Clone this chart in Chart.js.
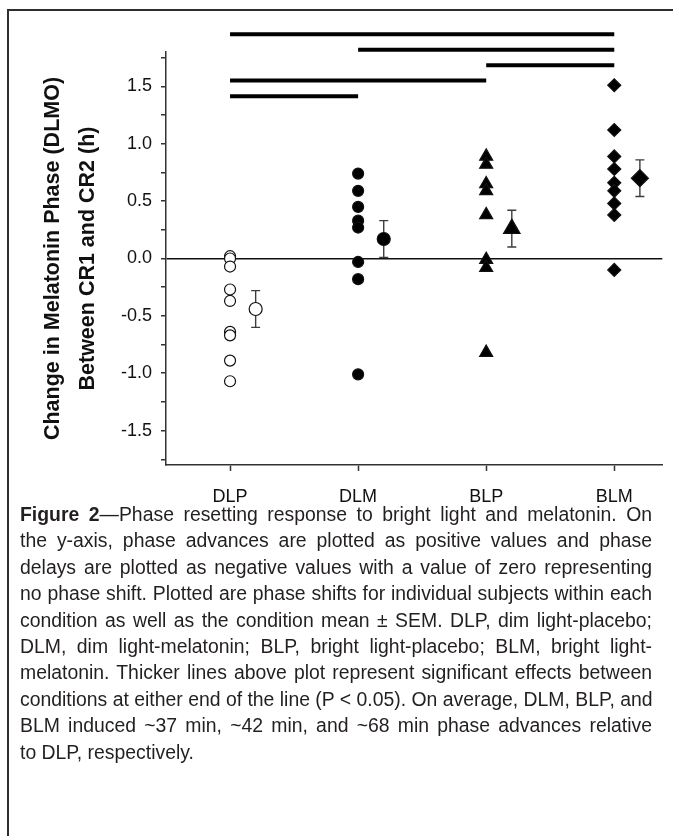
<!DOCTYPE html>
<html>
<head>
<meta charset="utf-8">
<script src="https://cdn.jsdelivr.net/npm/chart.js@4.4.1/dist/chart.umd.min.js"></script>
<style>
html,body{margin:0;padding:0;background:#fff;width:673px;height:836px;overflow:hidden;position:relative;}
#frame{position:absolute;left:7px;top:9px;width:700px;height:900px;border-top:2px solid #2e2e2e;border-left:2px solid #2e2e2e;box-sizing:border-box;}
#wrap{position:absolute;left:0;top:0;width:673px;height:505px;}
#caption{position:absolute;left:20px;top:501px;width:632px;font-family:"Liberation Sans",Arial,sans-serif;font-size:19.4px;color:#231f20;line-height:26.4px;}
#caption div{white-space:nowrap;text-align:justify;text-align-last:justify;}
#caption div.last{text-align-last:left;}
</style>
</head>
<body>
<div id="frame"></div>
<div id="wrap"><canvas id="c" width="673" height="505"></canvas></div>
<div id="caption">
<div><b>Figure 2</b>—Phase resetting response to bright light and melatonin. On</div>
<div>the y-axis, phase advances are plotted as positive values and phase</div>
<div>delays are plotted as negative values with a value of zero representing</div>
<div>no phase shift. Plotted are phase shifts for individual subjects within each</div>
<div>condition as well as the condition mean ± SEM. DLP, dim light-placebo;</div>
<div>DLM, dim light-melatonin; BLP, bright light-placebo; BLM, bright light-</div>
<div>melatonin. Thicker lines above plot represent significant effects between</div>
<div>conditions at either end of the line (P &lt; 0.05). On average, DLM, BLP, and</div>
<div>BLM induced ~37 min, ~42 min, and ~68 min phase advances relative</div>
<div class="last">to DLP, respectively.</div>
</div>
<script>
// ---- data ----
const categories = ['DLP', 'DLM', 'BLP', 'BLM'];
const dlpValues = [0.02, 0.00, -0.07, -0.27, -0.37, -0.64, -0.67, -0.89, -1.07];
const dlmValues = [0.74, 0.59, 0.45, 0.33, 0.27, -0.03, -0.18, -1.01];
const blpValues = [0.89, 0.82, 0.65, 0.59, 0.38, -0.01, -0.08, -0.82];
const blmValues = [1.51, 1.12, 0.89, 0.78, 0.66, 0.59, 0.48, 0.38, -0.10];
const means = [-0.44, 0.17, 0.26, 0.70];
const sems = [0.16, 0.16, 0.16, 0.16];
const sigFrom = [1, 2, 3, 1, 1];
const sigTo = [4, 4, 4, 3, 2];
const sigLevel = [1.955, 1.82, 1.685, 1.552, 1.415];
const yTickValues = [-1.75, -1.5, -1.25, -1, -0.75, -0.5, -0.25, 0, 0.25, 0.5, 0.75, 1, 1.25, 1.5, 1.75];
const yTitle = ['Change in Melatonin Phase (DLMO)', 'Between CR1 and CR2 (h)'];

const FONT = '"Liberation Sans", Arial, sans-serif';
const MEAN_OFFSET = 0.2;

const groupValues = [dlpValues, dlmValues, blpValues, blmValues];
const styles = [
  {pointStyle: 'circle', r: 5.5, mr: 6.5, bg: '#ffffff'},
  {pointStyle: 'circle', r: 5.5, mr: 6.5, bg: '#000000'},
  {pointStyle: 'triangle', r: 7.5, mr: 9.5, bg: '#000000'},
  {pointStyle: 'rectRot', r: 6.5, mr: 8.5, bg: '#000000'}
];

const datasets = [];
groupValues.forEach((vals, i) => {
  datasets.push({
    label: categories[i],
    data: vals.map(v => ({x: i + 1, y: v})),
    pointStyle: styles[i].pointStyle,
    pointRadius: styles[i].r,
    pointHoverRadius: styles[i].r,
    backgroundColor: styles[i].bg,
    borderColor: '#111',
    borderWidth: 1.2,
    showLine: false
  });
});
means.forEach((m, i) => {
  datasets.push({
    label: categories[i] + ' mean',
    data: [{x: i + 1 + MEAN_OFFSET, y: m}],
    pointStyle: styles[i].pointStyle,
    pointRadius: styles[i].mr,
    pointHoverRadius: styles[i].mr,
    backgroundColor: styles[i].bg,
    borderColor: '#111',
    borderWidth: 1.2,
    showLine: false
  });
});
sigLevel.forEach((lv, i) => {
  datasets.push({
    type: 'line',
    label: 'sig' + i,
    data: [{x: sigFrom[i], y: lv}, {x: sigTo[i], y: lv}],
    showLine: true,
    pointRadius: 0,
    borderColor: '#000',
    borderWidth: 4,
    clip: false,
    fill: false
  });
});

const errorBars = {
  id: 'errorBars',
  beforeDatasetsDraw(chart) {
    const {ctx, scales: {x, y}} = chart;
    ctx.save();
    ctx.strokeStyle = '#3c3c3c';
    ctx.lineWidth = 1.4;
    means.forEach((m, i) => {
      const px = x.getPixelForValue(i + 1 + MEAN_OFFSET);
      const top = y.getPixelForValue(m + sems[i]);
      const bot = y.getPixelForValue(m - sems[i]);
      ctx.beginPath();
      ctx.moveTo(px, top); ctx.lineTo(px, bot);
      ctx.moveTo(px - 4.5, top); ctx.lineTo(px + 4.5, top);
      ctx.moveTo(px - 4.5, bot); ctx.lineTo(px + 4.5, bot);
      ctx.stroke();
    });
    ctx.restore();
  }
};

new Chart(document.getElementById('c'), {
  type: 'scatter',
  data: {datasets},
  options: {
    responsive: false,
    animation: false,
    events: [],
    layout: {padding: {top: 52, right: 3, bottom: 0, left: 0}},
    plugins: {legend: {display: false}, tooltip: {enabled: false}},
    scales: {
      x: {
        type: 'linear', min: 0.5, max: 4.375,
        afterBuildTicks: s => { s.ticks = categories.map((c, i) => ({value: i + 1})); },
        afterFit: s => { s.height = 40; },
        ticks: {
          callback: v => categories[Math.round(v) - 1] || '',
          font: {family: FONT, size: 18}, color: '#111', padding: 15,
          maxRotation: 0, autoSkip: false
        },
        grid: {drawOnChartArea: false, tickLength: 6, tickColor: '#333', tickWidth: 1.5},
        border: {display: true, color: '#333', width: 1.5}
      },
      y: {
        type: 'linear', min: -1.8, max: 1.8,
        afterBuildTicks: s => { s.ticks = yTickValues.map(v => ({value: v})); },
        afterFit: s => { s.width = 166; },
        ticks: {
          callback: v => (Math.abs(v * 2 - Math.round(v * 2)) < 1e-6 ? v.toFixed(1) : ''),
          font: {family: FONT, size: 18}, color: '#111', padding: 9, autoSkip: false
        },
        grid: {
          drawOnChartArea: true,
          color: c => (c.tick && Math.abs(c.tick.value) < 1e-9 ? '#111' : 'rgba(0,0,0,0)'),
          lineWidth: 1.5,
          tickLength: 5, tickColor: '#333', tickWidth: 1.5
        },
        border: {display: true, color: '#333', width: 1.5},
        title: {
          display: true, text: yTitle, color: '#111',
          font: {family: FONT, size: 21.5, weight: 'bold', lineHeight: 35 / 21.5},
          padding: {top: 35.5, bottom: 0}
        }
      }
    }
  },
  plugins: [errorBars]
});
</script>
</body>
</html>
